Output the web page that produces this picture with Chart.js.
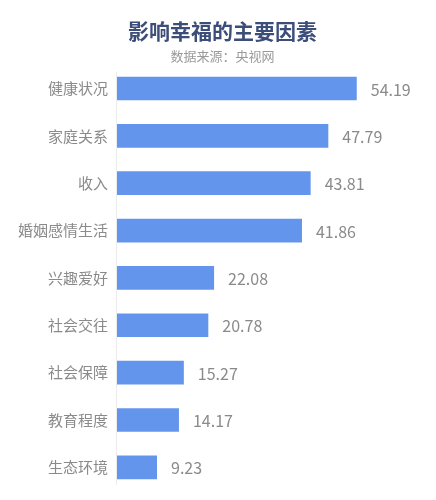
<!DOCTYPE html>
<html>
<head>
<meta charset="utf-8">
<script src="https://cdn.jsdelivr.net/npm/chart.js@4/dist/chart.umd.min.js"></script>
<style>
  html, body { margin: 0; padding: 0; background: #fff; }
  #wrap { width: 436px; height: 500px; }
</style>
</head>
<body>
<div id="wrap"><canvas id="chart"></canvas></div>
<script>
const categories = ["健康状况", "家庭关系", "收入", "婚姻感情生活", "兴趣爱好", "社会交往", "社会保障", "教育程度", "生态环境"];
const values = [54.19, 47.79, 43.81, 41.86, 22.08, 20.78, 15.27, 14.17, 9.23];

const fontFamily = "'Noto Sans CJK SC', 'Noto Sans', sans-serif";

// number to the right of each bar, plus the short light axis line
const valueLabels = {
  id: "valueLabels",
  afterDatasetsDraw(chart) {
    const ctx = chart.ctx;
    const area = chart.chartArea;
    const meta = chart.getDatasetMeta(0);
    ctx.save();
    ctx.strokeStyle = "#ececec";
    ctx.lineWidth = 1;
    ctx.beginPath();
    ctx.moveTo(area.left + 0.5, area.top + 7);
    ctx.lineTo(area.left + 0.5, area.bottom - 6);
    ctx.stroke();
    ctx.font = "16px " + fontFamily;
    ctx.fillStyle = "#8a8a8a";
    ctx.textAlign = "left";
    ctx.textBaseline = "middle";
    meta.data.forEach((bar, i) => {
      ctx.fillText(values[i].toFixed(2), bar.x + 14, bar.y + 1);
    });
    ctx.restore();
  }
};

new Chart(document.getElementById("chart"), {
  type: "bar",
  data: {
    labels: categories,
    datasets: [{
      data: values,
      backgroundColor: "#6495ed",
      categoryPercentage: 1,
      barPercentage: 0.5
    }]
  },
  options: {
    indexAxis: "y",
    responsive: true,
    maintainAspectRatio: false,
    animation: false,
    layout: { padding: { left: 18, right: 9, top: 0, bottom: 0 } },
    plugins: {
      legend: { display: false },
      tooltip: { enabled: false },
      title: {
        display: true,
        text: "影响幸福的主要因素",
        color: "#3b4d78",
        font: { family: fontFamily, size: 21, weight: "bold" },
        padding: { top: 18, bottom: 5 }
      },
      subtitle: {
        display: true,
        text: "数据来源：央视网",
        color: "#9a9a9a",
        font: { family: fontFamily, size: 13 },
        padding: { top: 0, bottom: 1 }
      }
    },
    scales: {
      x: {
        min: 0,
        max: 70,
        display: false
      },
      y: {
        grid: { display: false },
        border: { display: false },
        ticks: {
          color: "#8a8a8a",
          padding: 0,
          font: { family: fontFamily, size: 15 }
        }
      }
    }
  },
  plugins: [valueLabels]
});
</script>
</body>
</html>
